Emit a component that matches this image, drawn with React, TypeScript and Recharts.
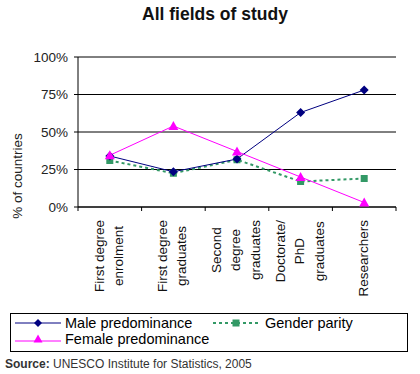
import React from "react";
import {
  LineChart,
  Line,
  XAxis,
  YAxis,
  CartesianGrid,
} from "recharts";

const categories = [
  "First degree enrolment",
  "First degree graduates",
  "Second degree graduates",
  "Doctorate/ PhD graduates",
  "Researchers",
];
const categoryLines = [
  ["First degree", "enrolment"],
  ["First degree", "graduates"],
  ["Second", "degree", "graduates"],
  ["Doctorate/", "PhD", "graduates"],
  ["Researchers"],
];
const male = [34, 23.5, 32, 63, 78];
const female = [34.5, 54, 37, 20, 3];
const parity = [31, 22.5, 31.5, 17, 19];
const yTicks = [0, 25, 50, 75, 100];

const seriesNames = {
  male: "Male predominance",
  female: "Female predominance",
  parity: "Gender parity",
};

const data = categories.map((c, i) => ({
  name: c,
  male: male[i],
  female: female[i],
  parity: parity[i],
}));

const NAVY = "#000080";
const MAGENTA = "#FF00FF";
const GREEN = "#339966";
const FONT = "Arial, 'Liberation Sans', sans-serif";
const TICK_FONT_SIZE = 13.5;

const W = 420;
const H = 310;
const margin = { top: 57, right: 24, bottom: 3, left: 0 };
const yAxisW = 78;
const bandW = (W - margin.left - margin.right - yAxisW) / categories.length;

// measure label widths so multi-line rotated labels sit like Excel's (block top-aligned, lines centred)
let ctx: CanvasRenderingContext2D | null = null;
const textWidth = (t: string) => {
  if (!ctx) ctx = document.createElement("canvas").getContext("2d");
  if (!ctx) return t.length * 7;
  ctx.font = `${TICK_FONT_SIZE}px ${FONT}`;
  return ctx.measureText(t).width;
};

const Diamond = ({ cx, cy, size = 4.5, color = NAVY }: any) => (
  <path
    d={`M${cx},${cy - size} L${cx + size},${cy} L${cx},${cy + size} L${cx - size},${cy} Z`}
    fill={color}
  />
);
const Triangle = ({ cx, cy, size = 5, color = MAGENTA }: any) => (
  <path
    d={`M${cx},${cy - size} L${cx + size},${cy + size * 0.8} L${cx - size},${cy + size * 0.8} Z`}
    fill={color}
  />
);
const Square = ({ cx, cy, size = 3.5, color = GREEN }: any) => (
  <rect x={cx - size} y={cy - size} width={size * 2} height={size * 2} fill={color} />
);

const XTick = ({ x, y, index }: any) => {
  const lines = categoryLines[index] || [];
  const n = lines.length;
  const maxW = Math.max(...lines.map(textWidth));
  const axisY = y - 8;
  const midY = axisY + 13 + maxW / 2;
  const gap = n === 2 ? 19 : 19.5;
  return (
    <g>
      <line x1={x - bandW / 2} x2={x - bandW / 2} y1={axisY} y2={axisY + 4} stroke="#000" />
      {index === categories.length - 1 && (
        <line x1={x + bandW / 2} x2={x + bandW / 2} y1={axisY} y2={axisY + 4} stroke="#000" />
      )}
      {lines.map((t, i) => {
        const lx = x + (i - (n - 1) / 2) * gap - 1;
        return (
          <text
            key={i}
            x={lx}
            y={midY}
            transform={`rotate(-90, ${lx}, ${midY})`}
            textAnchor="middle"
            dominantBaseline="central"
            fontSize={TICK_FONT_SIZE}
            fontFamily={FONT}
            fill="#111"
          >
            {t}
          </text>
        );
      })}
    </g>
  );
};

const LegendIcon = ({ kind }: { kind: string }) => (
  <svg width={46} height={12} style={{ display: "block" }}>
    {kind === "male" && (
      <>
        <line x1={0} x2={46} y1={6} y2={6} stroke={NAVY} strokeWidth={1} />
        <Diamond cx={23} cy={6} size={4} />
      </>
    )}
    {kind === "female" && (
      <>
        <line x1={0} x2={46} y1={8} y2={8} stroke={MAGENTA} strokeWidth={1} />
        <Triangle cx={23} cy={6} size={4.5} />
      </>
    )}
    {kind === "parity" && (
      <>
        <line x1={0} x2={46} y1={6} y2={6} stroke={GREEN} strokeWidth={2} strokeDasharray="3 3" />
        <Square cx={23} cy={6} size={3.5} />
      </>
    )}
  </svg>
);

export default function App() {
  return (
    <div
      style={{
        position: "absolute",
        left: 0,
        top: 0,
        width: W,
        height: 374,
        background: "#fff",
        fontFamily: FONT,
      }}
    >
      <div
        style={{
          position: "absolute",
          top: 4,
          left: 0,
          width: 430,
          textAlign: "center",
          fontSize: 17.5,
          fontWeight: "bold",
          color: "#111",
        }}
      >
        All fields of study
      </div>

      <LineChart width={W} height={H} data={data} margin={margin}>
        <CartesianGrid vertical={false} stroke="#000" strokeWidth={1} />
        <XAxis
          dataKey="name"
          scale="band"
          interval={0}
          height={100}
          axisLine={{ stroke: "#000" }}
          tickLine={false}
          tick={<XTick />}
        />
        <YAxis
          width={yAxisW}
          domain={[0, 100]}
          ticks={yTicks}
          tickFormatter={(v) => `${v}%`}
          tickSize={4}
          tickMargin={6}
          axisLine={{ stroke: "#000" }}
          tickLine={{ stroke: "#000" }}
          tick={{ fontSize: TICK_FONT_SIZE, fill: "#222", fontFamily: FONT }}
          label={{
            value: "% of countries",
            angle: -90,
            position: "insideLeft",
            offset: 17,
            dy: 44,
            style: { fontSize: TICK_FONT_SIZE, fill: "#222", fontFamily: FONT, textAnchor: "middle" },
          }}
        />
        <YAxis
          yAxisId="r"
          orientation="right"
          width={0}
          domain={[0, 100]}
          tick={false}
          tickLine={false}
          axisLine={{ stroke: "#999" }}
        />
        <Line
          dataKey="parity"
          name={seriesNames.parity}
          stroke={GREEN}
          strokeWidth={2}
          strokeDasharray="3 3"
          isAnimationActive={false}
          dot={(p: any) => <Square key={`s${p.index}`} cx={p.cx} cy={p.cy} />}
        />
        <Line
          dataKey="male"
          name={seriesNames.male}
          stroke={NAVY}
          strokeWidth={1}
          isAnimationActive={false}
          dot={(p: any) => <Diamond key={`d${p.index}`} cx={p.cx} cy={p.cy} />}
        />
        <Line
          dataKey="female"
          name={seriesNames.female}
          stroke={MAGENTA}
          strokeWidth={1}
          isAnimationActive={false}
          dot={(p: any) => <Triangle key={`t${p.index}`} cx={p.cx} cy={p.cy} />}
        />
      </LineChart>

      <div
        style={{
          position: "absolute",
          left: 10,
          top: 313,
          width: 396,
          height: 37,
          border: "1px solid #000",
          fontSize: 14.5,
          color: "#000",
        }}
      >
        <div style={{ position: "absolute", left: 4, top: 1, display: "flex", alignItems: "center" }}>
          <LegendIcon kind="male" />
          <span style={{ marginLeft: 4 }}>{seriesNames.male}</span>
        </div>
        <div style={{ position: "absolute", left: 202, top: 1, display: "flex", alignItems: "center" }}>
          <LegendIcon kind="parity" />
          <span style={{ marginLeft: 6 }}>{seriesNames.parity}</span>
        </div>
        <div style={{ position: "absolute", left: 4, top: 17, display: "flex", alignItems: "center" }}>
          <LegendIcon kind="female" />
          <span style={{ marginLeft: 4 }}>{seriesNames.female}</span>
        </div>
      </div>

      <div style={{ position: "absolute", left: 5, top: 357, fontSize: 12, color: "#333" }}>
        <b>Source:</b> UNESCO Institute for Statistics, 2005
      </div>
    </div>
  );
}
